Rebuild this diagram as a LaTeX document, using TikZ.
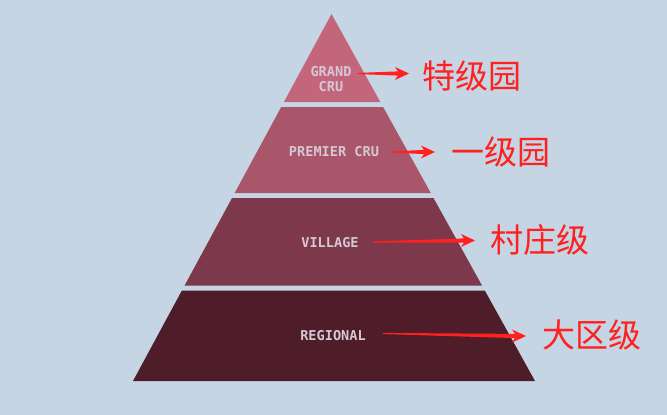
\documentclass[tikz,border=0pt]{standalone}
\usepackage{fontspec}
\usetikzlibrary{calc}
\newfontfamily\cjk{Noto Sans CJK SC}
\newfontfamily\tiermono{DejaVu Sans Mono Bold}
\definecolor{bgc}{HTML}{C5D5E3}
\definecolor{gcc}{HTML}{C4667B}
\definecolor{pcc}{HTML}{A9566A}
\definecolor{vlc}{HTML}{7D384B}
\definecolor{rgc}{HTML}{4F1C29}
\definecolor{tierfg}{HTML}{D4C8D4}
\definecolor{arrowred}{HTML}{FF2020}
\newcommand\taperarrow[2]{%
  \fill[arrowred] ($(#1)+(0,0.6)$) -- ($(#2)+(-11,2.1)$) -- ($(#2)+(-14,6.5)$) -- (#2)
    -- ($(#2)+(-14,-6.5)$) -- ($(#2)+(-11,-2.1)$) -- ($(#1)+(0,-0.6)$) -- cycle;}
\begin{document}
\begin{tikzpicture}[x=1pt,y=-1pt,
  tier/.style={font=\tiermono\fontsize{13.6}{14.3}\selectfont, text=tierfg, inner sep=0pt, align=center},
  cnlabel/.style={font=\cjk\fontsize{33}{33}\selectfont, text=arrowred, inner sep=0pt}]
\useasboundingbox (0,0) rectangle (667,415);
\fill[bgc] (0,0) rectangle (667,415);
% pyramid slices
\fill[gcc] (331.5,14) -- (380.3,102) -- (283.9,102) -- cycle;
\fill[pcc] (281.2,107) -- (383.1,107) -- (430.8,193) -- (234.7,193) -- cycle;
\fill[vlc] (232.0,198) -- (433.5,198) -- (482.0,285.5) -- (184.6,285.5) -- cycle;
\fill[rgc] (181.9,290.5) -- (484.8,290.5) -- (535,381) -- (133,381) -- cycle;
% tier labels
\node[tier] (gc) at (331,79) {GRAND\\CRU};
\node[tier] (pc) at (334,152) {PREMIER CRU};
\node[tier] (vl) at (330,243) {VILLAGE};
\node[tier] (rg) at (333,336) {REGIONAL};
% chinese labels
\node[cnlabel] (t1) at (472,75.5) {特级园};
\node[cnlabel] (t2) at (501,152) {一级园};
\node[cnlabel] (t3) at (540,240) {村庄级};
\node[cnlabel] (t4) at (592,335) {大区级};
% arrows
\coordinate (a1s) at (358,73.5); \coordinate (a1e) at (409,73.5);
\coordinate (a2s) at (392,152); \coordinate (a2e) at (435,152);
\coordinate (a3s) at (373,242); \coordinate (a3e) at (475,240.5);
\coordinate (a4s) at (383,333.5); \coordinate (a4e) at (526,336);
\taperarrow{a1s}{a1e}
\taperarrow{a2s}{a2e}
\taperarrow{a3s}{a3e}
\taperarrow{a4s}{a4e}
\end{tikzpicture}
\end{document}
